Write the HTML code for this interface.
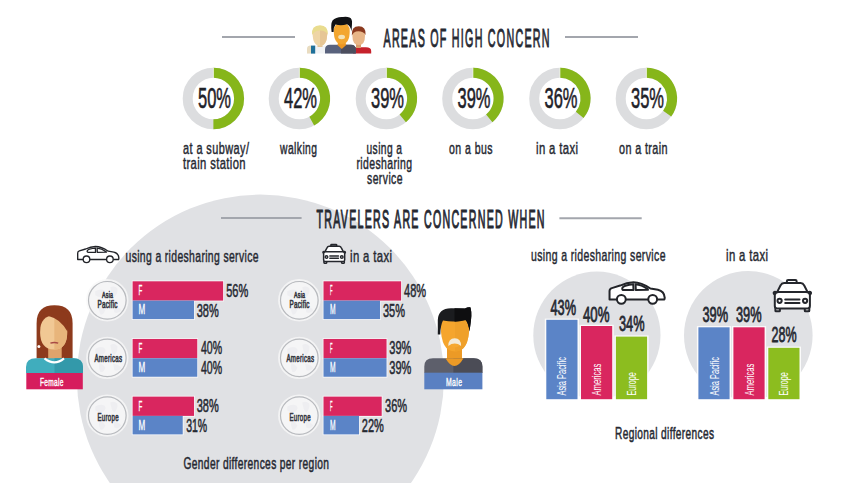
<!DOCTYPE html><html><head><meta charset="utf-8"><style>html,body{margin:0;padding:0;background:#fff;}svg{display:block;font-family:"Liberation Sans",sans-serif;}</style></head><body>
<svg width="858" height="483" viewBox="0 0 858 483">
<rect width="858" height="483" fill="#fff"/>
<circle cx="260.4" cy="378.1" r="183.5" fill="#e0e1e4"/>
<circle cx="596.9" cy="335.2" r="63.6" fill="#e0e1e4"/>
<circle cx="748.3" cy="335.3" r="64.3" fill="#e0e1e4"/>
<line x1="222.0" y1="37.0" x2="295.0" y2="37.0" stroke="#a3a6ad" stroke-width="2"/>
<line x1="565.0" y1="37.0" x2="638.0" y2="37.0" stroke="#a3a6ad" stroke-width="2"/>
<line x1="221.0" y1="218.0" x2="301.6" y2="218.0" stroke="#a3a6ad" stroke-width="2"/>
<line x1="559.4" y1="218.3" x2="641.7" y2="218.3" stroke="#a3a6ad" stroke-width="2"/>
<circle cx="213.40" cy="98.50" r="25.70" fill="none" stroke="#dcdddf" stroke-width="10"/>
<path d="M213.40,72.80 A25.70,25.70 0 0 1 213.40,124.20" fill="none" stroke="#86b61a" stroke-width="10"/>
<line x1="213.40" y1="67.50" x2="213.40" y2="78.50" stroke="#fff" stroke-width="1" opacity="0.7"/>
<circle cx="299.40" cy="98.50" r="25.70" fill="none" stroke="#dcdddf" stroke-width="10"/>
<path d="M299.40,72.80 A25.70,25.70 0 0 1 311.78,121.02" fill="none" stroke="#86b61a" stroke-width="10"/>
<line x1="299.40" y1="67.50" x2="299.40" y2="78.50" stroke="#fff" stroke-width="1" opacity="0.7"/>
<circle cx="386.40" cy="98.50" r="25.70" fill="none" stroke="#dcdddf" stroke-width="10"/>
<path d="M386.40,72.80 A25.70,25.70 0 0 1 402.78,118.30" fill="none" stroke="#86b61a" stroke-width="10"/>
<line x1="386.40" y1="67.50" x2="386.40" y2="78.50" stroke="#fff" stroke-width="1" opacity="0.7"/>
<circle cx="472.90" cy="98.50" r="25.70" fill="none" stroke="#dcdddf" stroke-width="10"/>
<path d="M472.90,72.80 A25.70,25.70 0 0 1 489.28,118.30" fill="none" stroke="#86b61a" stroke-width="10"/>
<line x1="472.90" y1="67.50" x2="472.90" y2="78.50" stroke="#fff" stroke-width="1" opacity="0.7"/>
<circle cx="559.90" cy="98.50" r="25.70" fill="none" stroke="#dcdddf" stroke-width="10"/>
<path d="M559.90,72.80 A25.70,25.70 0 0 1 579.70,114.88" fill="none" stroke="#86b61a" stroke-width="10"/>
<line x1="559.90" y1="67.50" x2="559.90" y2="78.50" stroke="#fff" stroke-width="1" opacity="0.7"/>
<circle cx="646.40" cy="98.50" r="25.70" fill="none" stroke="#dcdddf" stroke-width="10"/>
<path d="M646.40,72.80 A25.70,25.70 0 0 1 667.19,113.61" fill="none" stroke="#86b61a" stroke-width="10"/>
<line x1="646.40" y1="67.50" x2="646.40" y2="78.50" stroke="#fff" stroke-width="1" opacity="0.7"/>
<g>
<path d="M307,53.6 L307,49 Q307,45.6 311,45.6 L326,45.6 L326,53.6 Z" fill="#f1f3f5"/>
<path d="M307,53.6 L307,49 Q307,45.6 311,45.6 L311,53.6 Z" fill="#e9dcc0"/>
<rect x="311" y="45.6" width="4.2" height="8" fill="#1f7099"/>
<rect x="317.5" y="41" width="5" height="6" fill="#e3c496"/>
<path d="M312.6,33 Q312.6,45.8 320,45.8 Q327.2,45.8 327.2,33 Q327.2,26 320,26 Q312.6,26 312.6,33 Z" fill="#eed5a6"/>
<path d="M320,26 Q327.2,26 327.2,33 Q327.2,45.8 320,45.8 Z" fill="#e6c695"/>
<path d="M312,35 Q311,25.5 320,25.2 Q328.5,25.5 327.8,35 Q326,30 319,30.5 Q314.5,31 312,35 Z" fill="#e9dc8f"/>
<path d="M353,53.6 L353,47.3 L366,47.3 Q371.2,47.3 371.2,51 L371.2,53.6 Z" fill="#c6212b"/>
<rect x="356" y="42" width="5" height="6" fill="#d89e6c"/>
<path d="M352.4,36 Q352.4,45 358.8,45 Q365,45 365,36 Q365,28.5 358.8,28.5 Q352.4,28.5 352.4,36 Z" fill="#e8b688"/>
<path d="M351.8,35.5 Q351.2,26.4 358.8,26.3 Q366.2,26.4 365.6,35 Q363,30.5 356,31.5 Q353.5,32.2 351.8,35.5 Z" fill="#8b3a1f"/>
<path d="M325,53.6 L325,49.5 Q325,44.8 330,44.8 L351,44.8 Q355.8,44.8 355.8,49.5 L355.8,53.6 Z" fill="#59627d"/>
<path d="M341,44.8 L351,44.8 Q355.8,44.8 355.8,49.5 L355.8,53.6 L341,53.6 Z" fill="#4c4e5e"/>
<path d="M337,44.8 L346.5,44.8 L341.8,49 Z" fill="#ec9621"/>
<rect x="337.8" y="39" width="8" height="6" fill="#ee9a24"/>
<path d="M333.8,31 Q333.8,44 341.8,44 Q349.7,44 349.7,31 Q349.7,23 341.8,23 Q333.8,23 333.8,31 Z" fill="#f3a62f"/>
<ellipse cx="341.6" cy="37" rx="3.4" ry="2.2" fill="#f4e2b4"/>
<path d="M331.6,32 Q330.5,24 332.5,20.5 Q336,16.6 343,17 Q347,16.5 349.5,17.5 Q352.5,18.5 352,24 L351.5,31.5 Q350.5,25.5 347,24.3 Q341,26 335.5,24.5 Q333.5,27 333.6,32 Z" fill="#111215"/>
</g>
<g transform="translate(77,246.8)"><g fill="#fff" stroke="#222429" stroke-width="1.35" stroke-linejoin="round">
<path d="M0.7,12.7 L0.7,6.2 Q0.7,4.6 2.4,4.1 L8.6,2.2 Q13.5,-0.2 18.5,-0.3 Q24.5,-0.2 31.2,4.4 L36.8,5.3 Q41.6,6.3 41.9,11.4 L41.6,12.7 Z"/>
<path d="M10.2,4.1 Q10.6,3 12.5,2.4 Q15.5,1.5 18.4,1.3 L18.6,5.5 L11.3,5.6 Q10,5.5 10.2,4.1 Z"/>
<path d="M20.1,1.3 Q24.4,1.5 29.2,4.9 L29.4,5.4 L20.3,5.5 Z"/>
<circle cx="9.5" cy="12.5" r="3.3"/><circle cx="32.9" cy="12.5" r="3.3"/>
</g></g>
<g transform="translate(322.3,243.9) scale(0.6)"><g fill="#fff" stroke="#25272d" stroke-width="2.5" stroke-linejoin="round" stroke-linecap="round">
<path d="M14.3,4 L14.3,2 Q14.3,0.8 15.5,0.8 L22.8,0.8 Q24,0.8 24,2 L24,4 Z"/>
<path d="M4.5,13 L8,6.2 Q9,4 11.5,4 L28,4 Q30.5,4 31.5,6.2 L35,13 Z"/>
<path d="M2.8,29 L7.3,29 L7.3,31.6 Q7.3,32.2 6.7,32.2 L3.4,32.2 Q2.8,32.2 2.8,31.6 Z"/>
<path d="M32.2,29 L36.7,29 L36.7,31.6 Q36.7,32.2 36.1,32.2 L32.8,32.2 Q32.2,32.2 32.2,31.6 Z"/>
<path d="M4,13 Q1,12.2 1,14 Q1,15.2 2.2,15.4 M35.5,13 Q38.5,12.2 38.5,14 Q38.5,15.2 37.3,15.4" fill="none"/>
<path d="M2.2,15.5 Q3,13 6,13 L33.5,13 Q36.5,13 37.3,15.5 L37.3,27 Q37.3,29.3 35,29.3 L4.5,29.3 Q2.2,29.3 2.2,27 Z"/>
<circle cx="7" cy="21.7" r="2.1"/><circle cx="32.5" cy="21.7" r="2.1"/>
<path d="M12.6,20.3 L26.9,20.3 M12.6,24 L26.9,24" fill="none"/>
</g></g>
<circle cx="107.3" cy="300.3" r="20.2" fill="none" stroke="#f7f7f8" stroke-width="2" opacity="0.8"/><circle cx="107.3" cy="300.3" r="18.8" fill="#f5f5f6" stroke="#b8babe" stroke-width="1.2"/><g fill="#eeeef1"><path d="M95.3,291.3 q5,-3 9,-1 q3,3 -1,6 q-4,2 -8,-1 z"/><path d="M110.3,287.3 q4,-2 7,1 q1,5 -3,9 q-3,-2 -4,-10 z"/><path d="M99.3,305.3 q4,1 6,5 q-2,5 -5,4 q-2,-4 -1,-9 z"/><path d="M113.3,306.3 q5,0 8,4 q-3,4 -7,2 z"/></g>
<circle cx="107.3" cy="357.9" r="20.2" fill="none" stroke="#f7f7f8" stroke-width="2" opacity="0.8"/><circle cx="107.3" cy="357.9" r="18.8" fill="#f5f5f6" stroke="#b8babe" stroke-width="1.2"/><g fill="#eeeef1"><path d="M95.3,348.9 q5,-3 9,-1 q3,3 -1,6 q-4,2 -8,-1 z"/><path d="M110.3,344.9 q4,-2 7,1 q1,5 -3,9 q-3,-2 -4,-10 z"/><path d="M99.3,362.9 q4,1 6,5 q-2,5 -5,4 q-2,-4 -1,-9 z"/><path d="M113.3,363.9 q5,0 8,4 q-3,4 -7,2 z"/></g>
<circle cx="107.3" cy="415.6" r="20.2" fill="none" stroke="#f7f7f8" stroke-width="2" opacity="0.8"/><circle cx="107.3" cy="415.6" r="18.8" fill="#f5f5f6" stroke="#b8babe" stroke-width="1.2"/><g fill="#eeeef1"><path d="M95.3,406.6 q5,-3 9,-1 q3,3 -1,6 q-4,2 -8,-1 z"/><path d="M110.3,402.6 q4,-2 7,1 q1,5 -3,9 q-3,-2 -4,-10 z"/><path d="M99.3,420.6 q4,1 6,5 q-2,5 -5,4 q-2,-4 -1,-9 z"/><path d="M113.3,421.6 q5,0 8,4 q-3,4 -7,2 z"/></g>
<circle cx="299.3" cy="300.3" r="20.2" fill="none" stroke="#f7f7f8" stroke-width="2" opacity="0.8"/><circle cx="299.3" cy="300.3" r="18.8" fill="#f5f5f6" stroke="#b8babe" stroke-width="1.2"/><g fill="#eeeef1"><path d="M287.3,291.3 q5,-3 9,-1 q3,3 -1,6 q-4,2 -8,-1 z"/><path d="M302.3,287.3 q4,-2 7,1 q1,5 -3,9 q-3,-2 -4,-10 z"/><path d="M291.3,305.3 q4,1 6,5 q-2,5 -5,4 q-2,-4 -1,-9 z"/><path d="M305.3,306.3 q5,0 8,4 q-3,4 -7,2 z"/></g>
<circle cx="299.3" cy="357.9" r="20.2" fill="none" stroke="#f7f7f8" stroke-width="2" opacity="0.8"/><circle cx="299.3" cy="357.9" r="18.8" fill="#f5f5f6" stroke="#b8babe" stroke-width="1.2"/><g fill="#eeeef1"><path d="M287.3,348.9 q5,-3 9,-1 q3,3 -1,6 q-4,2 -8,-1 z"/><path d="M302.3,344.9 q4,-2 7,1 q1,5 -3,9 q-3,-2 -4,-10 z"/><path d="M291.3,362.9 q4,1 6,5 q-2,5 -5,4 q-2,-4 -1,-9 z"/><path d="M305.3,363.9 q5,0 8,4 q-3,4 -7,2 z"/></g>
<circle cx="299.3" cy="415.6" r="20.2" fill="none" stroke="#f7f7f8" stroke-width="2" opacity="0.8"/><circle cx="299.3" cy="415.6" r="18.8" fill="#f5f5f6" stroke="#b8babe" stroke-width="1.2"/><g fill="#eeeef1"><path d="M287.3,406.6 q5,-3 9,-1 q3,3 -1,6 q-4,2 -8,-1 z"/><path d="M302.3,402.6 q4,-2 7,1 q1,5 -3,9 q-3,-2 -4,-10 z"/><path d="M291.3,420.6 q4,1 6,5 q-2,5 -5,4 q-2,-4 -1,-9 z"/><path d="M305.3,421.6 q5,0 8,4 q-3,4 -7,2 z"/></g>
<rect x="131.80" y="280.50" width="92.15" height="20.90" fill="#fff" opacity="0.8"/>
<rect x="131.80" y="299.80" width="63.05" height="20.10" fill="#fff" opacity="0.8"/>
<rect x="131.80" y="338.15" width="66.28" height="20.90" fill="#fff" opacity="0.8"/>
<rect x="131.80" y="357.45" width="66.28" height="20.10" fill="#fff" opacity="0.8"/>
<rect x="131.80" y="395.80" width="63.05" height="20.90" fill="#fff" opacity="0.8"/>
<rect x="131.80" y="415.10" width="51.73" height="20.10" fill="#fff" opacity="0.8"/>
<rect x="322.70" y="280.50" width="79.22" height="20.90" fill="#fff" opacity="0.8"/>
<rect x="322.70" y="299.80" width="58.20" height="20.10" fill="#fff" opacity="0.8"/>
<rect x="322.70" y="338.15" width="64.66" height="20.90" fill="#fff" opacity="0.8"/>
<rect x="322.70" y="357.45" width="64.66" height="20.10" fill="#fff" opacity="0.8"/>
<rect x="322.70" y="395.80" width="59.81" height="20.90" fill="#fff" opacity="0.8"/>
<rect x="322.70" y="415.10" width="37.17" height="20.10" fill="#fff" opacity="0.8"/>
<rect x="132.60" y="281.30" width="90.55" height="19.30" fill="#d9265f"/>
<rect x="132.60" y="300.60" width="61.45" height="18.50" fill="#5b84c7"/>
<rect x="132.60" y="338.95" width="64.68" height="19.30" fill="#d9265f"/>
<rect x="132.60" y="358.25" width="64.68" height="18.50" fill="#5b84c7"/>
<rect x="132.60" y="396.60" width="61.45" height="19.30" fill="#d9265f"/>
<rect x="132.60" y="415.90" width="50.13" height="18.50" fill="#5b84c7"/>
<rect x="323.50" y="281.30" width="77.62" height="19.30" fill="#d9265f"/>
<rect x="323.50" y="300.60" width="56.59" height="18.50" fill="#5b84c7"/>
<rect x="323.50" y="338.95" width="63.06" height="19.30" fill="#d9265f"/>
<rect x="323.50" y="358.25" width="63.06" height="18.50" fill="#5b84c7"/>
<rect x="323.50" y="396.60" width="58.21" height="19.30" fill="#d9265f"/>
<rect x="323.50" y="415.90" width="35.57" height="18.50" fill="#5b84c7"/>
<g>
<path d="M36.6,358.5 L36.6,323 Q36.6,305.2 54.4,305.2 Q72.6,305.2 72.6,323 L72.6,358.5 Z" fill="#8d3a1c"/>
<rect x="48.2" y="344" width="13.5" height="15" fill="#dea36c"/>
<path d="M40.1,332 Q40.1,349.3 54.3,349.6 Q67.2,349.3 67.2,332 Q67.2,315.5 54.3,315.5 Q40.1,315.5 40.1,332 Z" fill="#f1c894"/>
<path d="M54.3,315.5 Q67.2,315.5 67.2,332 Q67.2,349.3 54.3,349.6 Z" fill="#e8b57b"/>
<path d="M39.8,322.5 Q43.5,315 48.5,316 Q60,318.5 67.4,331.5 L67.6,318 Q65,309.5 54,309.5 Q41,310.5 39.8,322.5 Z" fill="#8d3a1c"/>
<path d="M50.4,343.2 Q54.3,341.8 58.2,343.2" stroke="#a84a45" stroke-width="1.4" fill="none"/>
<circle cx="38.9" cy="346.5" r="1.5" fill="#fff"/>
<path d="M26,373 L26,367 Q26,358.2 36,358.2 L73,358.2 Q83,358.2 83,367 L83,373 Z" fill="#40adbd"/>
<path d="M54.5,358.2 L73,358.2 Q83,358.2 83,367 L83,373 L54.5,373 Z" fill="#3399aa"/>
<path d="M44.5,358.4 Q54.5,366.5 64,358.4" stroke="#fff" stroke-width="2.2" fill="none"/>
<rect x="26.3" y="373" width="56.5" height="16.3" fill="#d61d5d"/>
</g>
<g>
<path d="M447,346 L462,346 L462,362 L447,362 Z" fill="#ec9a26"/>
<path d="M424.3,373 L424.3,366.5 Q424.3,358.2 433,358.2 L473.5,358.2 Q482.4,358.2 482.4,366.5 L482.4,373 Z" fill="#5d5f6b"/>
<path d="M453.4,358.2 L473.5,358.2 Q482.4,358.2 482.4,366.5 L482.4,373 L453.4,373 Z" fill="#4b4c56"/>
<path d="M445.5,358.2 L463.5,358.2 Q459,366 454.4,366 Q450,366 445.5,358.2 Z" fill="#ec9a26"/>
<path d="M440.8,326 Q440.8,351.5 455,351.5 Q469.2,351.5 469.2,326 Q469.2,313 455,313 Q440.8,313 440.8,326 Z" fill="#f5a52d"/>
<path d="M455,313 Q469.2,313 469.2,326 Q469.2,351.5 455,351.5 Z" fill="#efa02a"/>
<ellipse cx="454.7" cy="342.8" rx="6" ry="4.6" fill="#f6a82f"/>
<path d="M448.3,346 Q448.3,338.2 454.7,338.2 Q461.1,338.2 461.1,346 Q458,343.6 454.7,343.6 Q451.4,343.6 448.3,346 Z" fill="#f3ead6"/>
<path d="M437.8,334.5 L437.8,320 Q438.2,308.5 451,308.3 L465,308.6 Q467.5,306.8 470.3,307.2 Q472,311 471,320 L469.5,331.5 Q468.5,323 465.5,320 Q455,322.5 443,320.5 Q440.5,325 440.3,334.5 Z" fill="#1b1c1f"/>
<path d="M454.5,308.3 L465,308.6 Q467.5,306.8 470.3,307.2 Q472,311 471,320 L469.5,331.5 Q468.5,323 465.5,320 Q460,321.5 454.5,321.8 Z" fill="#0e0e10"/>
<rect x="424.3" y="372.7" width="58.1" height="16.6" fill="#5a80c2"/>
</g>
<rect x="544.80" y="318.60" width="34.2" height="81.80" fill="#fff" opacity="0.85"/>
<rect x="579.50" y="324.80" width="34.2" height="75.60" fill="#fff" opacity="0.85"/>
<rect x="614.40" y="335.40" width="34.2" height="65.00" fill="#fff" opacity="0.85"/>
<rect x="696.90" y="326.10" width="34.2" height="74.30" fill="#fff" opacity="0.85"/>
<rect x="731.90" y="326.10" width="34.2" height="74.30" fill="#fff" opacity="0.85"/>
<rect x="766.80" y="346.60" width="34.2" height="53.80" fill="#fff" opacity="0.85"/>
<rect x="546.30" y="319.80" width="31.2" height="79.40" fill="#5b84c7"/>
<rect x="581.00" y="326.00" width="31.2" height="73.20" fill="#d9265f"/>
<rect x="615.90" y="336.60" width="31.2" height="62.60" fill="#8cbd1f"/>
<rect x="698.40" y="327.30" width="31.2" height="71.90" fill="#5b84c7"/>
<rect x="733.40" y="327.30" width="31.2" height="71.90" fill="#d9265f"/>
<rect x="768.30" y="347.80" width="31.2" height="51.40" fill="#8cbd1f"/>
<text transform="translate(566.40,395.6) rotate(-90)" x="0" y="0" font-size="13.08" fill="#fff" textLength="38.6" lengthAdjust="spacingAndGlyphs">Asia Pacific</text>
<text transform="translate(601.10,395.6) rotate(-90)" x="0" y="0" font-size="13.08" fill="#fff" textLength="32.0" lengthAdjust="spacingAndGlyphs">Americas</text>
<text transform="translate(636.00,395.6) rotate(-90)" x="0" y="0" font-size="13.08" fill="#fff" textLength="23.5" lengthAdjust="spacingAndGlyphs">Europe</text>
<text transform="translate(718.50,395.6) rotate(-90)" x="0" y="0" font-size="13.08" fill="#fff" textLength="38.6" lengthAdjust="spacingAndGlyphs">Asia Pacific</text>
<text transform="translate(753.50,395.6) rotate(-90)" x="0" y="0" font-size="13.08" fill="#fff" textLength="32.0" lengthAdjust="spacingAndGlyphs">Americas</text>
<text transform="translate(788.40,395.6) rotate(-90)" x="0" y="0" font-size="13.08" fill="#fff" textLength="23.5" lengthAdjust="spacingAndGlyphs">Europe</text>
<g transform="translate(608.6,282.6) scale(1.34)"><g fill="#fff" stroke="#222429" stroke-width="1.5" stroke-linejoin="round">
<path d="M0.7,12.7 L0.7,6.2 Q0.7,4.6 2.4,4.1 L8.6,2.2 Q13.5,-0.2 18.5,-0.3 Q24.5,-0.2 31.2,4.4 L36.8,5.3 Q41.6,6.3 41.9,11.4 L41.6,12.7 Z"/>
<path d="M10.2,4.1 Q10.6,3 12.5,2.4 Q15.5,1.5 18.4,1.3 L18.6,5.5 L11.3,5.6 Q10,5.5 10.2,4.1 Z"/>
<path d="M20.1,1.3 Q24.4,1.5 29.2,4.9 L29.4,5.4 L20.3,5.5 Z"/>
<circle cx="9.5" cy="12.5" r="3.3"/><circle cx="32.9" cy="12.5" r="3.3"/>
</g></g>
<g transform="translate(772.6,279.1)"><g fill="#fff" stroke="#25272d" stroke-width="2" stroke-linejoin="round" stroke-linecap="round">
<path d="M14.3,4 L14.3,2 Q14.3,0.8 15.5,0.8 L22.8,0.8 Q24,0.8 24,2 L24,4 Z"/>
<path d="M4.5,13 L8,6.2 Q9,4 11.5,4 L28,4 Q30.5,4 31.5,6.2 L35,13 Z"/>
<path d="M2.8,29 L7.3,29 L7.3,31.6 Q7.3,32.2 6.7,32.2 L3.4,32.2 Q2.8,32.2 2.8,31.6 Z"/>
<path d="M32.2,29 L36.7,29 L36.7,31.6 Q36.7,32.2 36.1,32.2 L32.8,32.2 Q32.2,32.2 32.2,31.6 Z"/>
<path d="M4,13 Q1,12.2 1,14 Q1,15.2 2.2,15.4 M35.5,13 Q38.5,12.2 38.5,14 Q38.5,15.2 37.3,15.4" fill="none"/>
<path d="M2.2,15.5 Q3,13 6,13 L33.5,13 Q36.5,13 37.3,15.5 L37.3,27 Q37.3,29.3 35,29.3 L4.5,29.3 Q2.2,29.3 2.2,27 Z"/>
<circle cx="7" cy="21.7" r="2.1"/><circle cx="32.5" cy="21.7" r="2.1"/>
<path d="M12.6,20.3 L26.9,20.3 M12.6,24 L26.9,24" fill="none"/>
</g></g>
<g transform="translate(383.50,47.40) scale(0.4068,1)"><text id="t0" x="0" y="0" font-size="26.35" fill="#262932" stroke="#262932" stroke-width="0.99" textLength="408.13" lengthAdjust="spacing">AREAS OF HIGH CONCERN</text></g>
<g transform="translate(316.50,228.20) scale(0.4087,1)"><text id="t1" x="0" y="0" font-size="26.07" fill="#262932" stroke="#262932" stroke-width="1.15" textLength="557.92" lengthAdjust="spacing">TRAVELERS ARE CONCERNED WHEN</text></g>
<text id="t2" x="198.00" y="107.80" font-size="29.79" fill="#1f2229" stroke="#1f2229" stroke-width="0.60" textLength="33.02" lengthAdjust="spacingAndGlyphs">50%</text>
<text id="t3" x="284.00" y="107.80" font-size="29.79" fill="#1f2229" stroke="#1f2229" stroke-width="0.60" textLength="33.02" lengthAdjust="spacingAndGlyphs">42%</text>
<text id="t4" x="371.00" y="107.80" font-size="29.79" fill="#1f2229" stroke="#1f2229" stroke-width="0.60" textLength="33.02" lengthAdjust="spacingAndGlyphs">39%</text>
<text id="t5" x="457.50" y="107.80" font-size="29.79" fill="#1f2229" stroke="#1f2229" stroke-width="0.60" textLength="33.02" lengthAdjust="spacingAndGlyphs">39%</text>
<text id="t6" x="544.50" y="107.80" font-size="29.79" fill="#1f2229" stroke="#1f2229" stroke-width="0.60" textLength="33.02" lengthAdjust="spacingAndGlyphs">36%</text>
<text id="t7" x="631.00" y="107.80" font-size="29.79" fill="#1f2229" stroke="#1f2229" stroke-width="0.60" textLength="33.02" lengthAdjust="spacingAndGlyphs">35%</text>
<g transform="translate(183.00,153.60) scale(0.6432,1)"><text id="t8" x="0" y="0" font-size="17.00" fill="#262932" stroke="#262932" stroke-width="0.46" textLength="102.64" lengthAdjust="spacing">at a subway/</text></g>
<g transform="translate(183.00,168.60) scale(0.6616,1)"><text id="t9" x="0" y="0" font-size="17.00" fill="#262932" stroke="#262932" stroke-width="0.45" textLength="94.51" lengthAdjust="spacing">train station</text></g>
<g transform="translate(280.00,153.60) scale(0.6073,1)"><text id="t10" x="0" y="0" font-size="17.00" fill="#262932" stroke="#262932" stroke-width="0.47" textLength="60.97" lengthAdjust="spacing">walking</text></g>
<g transform="translate(366.50,153.60) scale(0.6026,1)"><text id="t11" x="0" y="0" font-size="17.00" fill="#262932" stroke="#262932" stroke-width="0.47" textLength="58.95" lengthAdjust="spacing">using a</text></g>
<g transform="translate(356.50,168.60) scale(0.6139,1)"><text id="t12" x="0" y="0" font-size="17.00" fill="#262932" stroke="#262932" stroke-width="0.47" textLength="90.44" lengthAdjust="spacing">ridesharing</text></g>
<g transform="translate(367.00,183.90) scale(0.6140,1)"><text id="t13" x="0" y="0" font-size="17.00" fill="#262932" stroke="#262932" stroke-width="0.47" textLength="57.91" lengthAdjust="spacing">service</text></g>
<g transform="translate(449.00,153.60) scale(0.6205,1)"><text id="t14" x="0" y="0" font-size="17.00" fill="#262932" stroke="#262932" stroke-width="0.47" textLength="70.14" lengthAdjust="spacing">on a bus</text></g>
<g transform="translate(536.00,153.60) scale(0.6670,1)"><text id="t15" x="0" y="0" font-size="17.00" fill="#262932" stroke="#262932" stroke-width="0.45" textLength="63.00" lengthAdjust="spacing">in a taxi</text></g>
<g transform="translate(619.00,153.60) scale(0.6365,1)"><text id="t16" x="0" y="0" font-size="17.00" fill="#262932" stroke="#262932" stroke-width="0.46" textLength="76.23" lengthAdjust="spacing">on a train</text></g>
<g transform="translate(125.50,261.80) scale(0.5979,1)"><text id="t17" x="0" y="0" font-size="17.40" fill="#262932" stroke="#262932" stroke-width="0.48" textLength="222.45" lengthAdjust="spacing">using a ridesharing service</text></g>
<g transform="translate(350.00,261.80) scale(0.6523,1)"><text id="t18" x="0" y="0" font-size="17.40" fill="#262932" stroke="#262932" stroke-width="0.46" textLength="64.45" lengthAdjust="spacing">in a taxi</text></g>
<g transform="translate(183.50,469.20) scale(0.5865,1)"><text id="t19" x="0" y="0" font-size="17.40" fill="#262932" stroke="#262932" stroke-width="0.55" textLength="248.10" lengthAdjust="spacing">Gender differences per region</text></g>
<g transform="translate(531.00,261.40) scale(0.6047,1)"><text id="t20" x="0" y="0" font-size="17.40" fill="#262932" stroke="#262932" stroke-width="0.47" textLength="222.45" lengthAdjust="spacing">using a ridesharing service</text></g>
<g transform="translate(726.00,261.40) scale(0.6522,1)"><text id="t21" x="0" y="0" font-size="17.40" fill="#262932" stroke="#262932" stroke-width="0.46" textLength="64.45" lengthAdjust="spacing">in a taxi</text></g>
<g transform="translate(615.00,439.20) scale(0.5819,1)"><text id="t22" x="0" y="0" font-size="17.40" fill="#262932" stroke="#262932" stroke-width="0.55" textLength="170.14" lengthAdjust="spacing">Regional differences</text></g>
<text id="t23" x="226.26" y="296.80" font-size="19.05" fill="#262932" stroke="#262932" stroke-width="0.55" textLength="22.02" lengthAdjust="spacingAndGlyphs">56%</text>
<text id="t24" x="196.73" y="316.80" font-size="19.05" fill="#262932" stroke="#262932" stroke-width="0.55" textLength="22.02" lengthAdjust="spacingAndGlyphs">38%</text>
<text id="t25" x="138.50" y="295.00" font-size="14.54" fill="#ffffff" stroke="#ffffff" stroke-width="0.30" textLength="3.80" lengthAdjust="spacingAndGlyphs">F</text>
<text id="t26" x="138.50" y="314.10" font-size="13.95" fill="#ffffff" stroke="#ffffff" stroke-width="0.30" textLength="6.71" lengthAdjust="spacingAndGlyphs">M</text>
<text id="t27" x="200.90" y="354.05" font-size="19.05" fill="#262932" stroke="#262932" stroke-width="0.55" textLength="21.11" lengthAdjust="spacingAndGlyphs">40%</text>
<text id="t28" x="200.90" y="374.05" font-size="19.05" fill="#262932" stroke="#262932" stroke-width="0.55" textLength="21.11" lengthAdjust="spacingAndGlyphs">40%</text>
<text id="t29" x="138.50" y="353.25" font-size="14.54" fill="#ffffff" stroke="#ffffff" stroke-width="0.30" textLength="3.80" lengthAdjust="spacingAndGlyphs">F</text>
<text id="t30" x="138.50" y="372.35" font-size="13.95" fill="#ffffff" stroke="#ffffff" stroke-width="0.30" textLength="6.71" lengthAdjust="spacingAndGlyphs">M</text>
<text id="t31" x="196.73" y="412.30" font-size="19.05" fill="#262932" stroke="#262932" stroke-width="0.55" textLength="22.02" lengthAdjust="spacingAndGlyphs">38%</text>
<text id="t32" x="186.14" y="432.30" font-size="19.05" fill="#262932" stroke="#262932" stroke-width="0.55" textLength="21.03" lengthAdjust="spacingAndGlyphs">31%</text>
<text id="t33" x="138.50" y="410.50" font-size="14.54" fill="#ffffff" stroke="#ffffff" stroke-width="0.30" textLength="3.80" lengthAdjust="spacingAndGlyphs">F</text>
<text id="t34" x="138.50" y="429.60" font-size="13.95" fill="#ffffff" stroke="#ffffff" stroke-width="0.30" textLength="6.71" lengthAdjust="spacingAndGlyphs">M</text>
<g transform="translate(102.00,297.50) scale(0.5480,1)"><text id="t35" x="0" y="0" font-size="9.66" fill="#34363e" stroke="#34363e" stroke-width="0.64" textLength="20.21" lengthAdjust="spacing">Asia</text></g>
<g transform="translate(97.50,308.40) scale(0.6194,1)"><text id="t36" x="0" y="0" font-size="10.21" fill="#34363e" stroke="#34363e" stroke-width="0.60" textLength="32.33" lengthAdjust="spacing">Pacific</text></g>
<g transform="translate(94.50,361.90) scale(0.5637,1)"><text id="t37" x="0" y="0" font-size="10.90" fill="#34363e" stroke="#34363e" stroke-width="0.63" textLength="48.81" lengthAdjust="spacing">Americas</text></g>
<g transform="translate(97.50,420.80) scale(0.5365,1)"><text id="t38" x="0" y="0" font-size="11.34" fill="#34363e" stroke="#34363e" stroke-width="0.65" textLength="39.28" lengthAdjust="spacing">Europe</text></g>
<text id="t39" x="404.08" y="296.80" font-size="19.05" fill="#262932" stroke="#262932" stroke-width="0.55" textLength="22.06" lengthAdjust="spacingAndGlyphs">48%</text>
<text id="t40" x="382.98" y="316.80" font-size="19.05" fill="#262932" stroke="#262932" stroke-width="0.55" textLength="22.02" lengthAdjust="spacingAndGlyphs">35%</text>
<text id="t41" x="330.00" y="295.00" font-size="14.54" fill="#ffffff" stroke="#ffffff" stroke-width="0.30" textLength="2.53" lengthAdjust="spacingAndGlyphs">F</text>
<text id="t42" x="330.00" y="314.10" font-size="13.95" fill="#ffffff" stroke="#ffffff" stroke-width="0.30" textLength="5.59" lengthAdjust="spacingAndGlyphs">M</text>
<text id="t43" x="389.31" y="354.05" font-size="19.05" fill="#262932" stroke="#262932" stroke-width="0.55" textLength="22.02" lengthAdjust="spacingAndGlyphs">39%</text>
<text id="t44" x="389.31" y="374.05" font-size="19.05" fill="#262932" stroke="#262932" stroke-width="0.55" textLength="22.02" lengthAdjust="spacingAndGlyphs">39%</text>
<text id="t45" x="330.00" y="353.25" font-size="14.54" fill="#ffffff" stroke="#ffffff" stroke-width="0.30" textLength="2.53" lengthAdjust="spacingAndGlyphs">F</text>
<text id="t46" x="330.00" y="372.35" font-size="13.95" fill="#ffffff" stroke="#ffffff" stroke-width="0.30" textLength="5.59" lengthAdjust="spacingAndGlyphs">M</text>
<text id="t47" x="385.06" y="412.30" font-size="19.05" fill="#262932" stroke="#262932" stroke-width="0.55" textLength="22.02" lengthAdjust="spacingAndGlyphs">36%</text>
<text id="t48" x="361.87" y="432.30" font-size="19.05" fill="#262932" stroke="#262932" stroke-width="0.55" textLength="22.02" lengthAdjust="spacingAndGlyphs">22%</text>
<text id="t49" x="330.00" y="410.50" font-size="14.54" fill="#ffffff" stroke="#ffffff" stroke-width="0.30" textLength="2.53" lengthAdjust="spacingAndGlyphs">F</text>
<text id="t50" x="330.00" y="429.60" font-size="13.95" fill="#ffffff" stroke="#ffffff" stroke-width="0.30" textLength="5.59" lengthAdjust="spacingAndGlyphs">M</text>
<g transform="translate(294.00,297.50) scale(0.5480,1)"><text id="t51" x="0" y="0" font-size="9.66" fill="#34363e" stroke="#34363e" stroke-width="0.64" textLength="20.21" lengthAdjust="spacing">Asia</text></g>
<g transform="translate(289.50,308.40) scale(0.6194,1)"><text id="t52" x="0" y="0" font-size="10.21" fill="#34363e" stroke="#34363e" stroke-width="0.60" textLength="32.33" lengthAdjust="spacing">Pacific</text></g>
<g transform="translate(286.50,361.90) scale(0.5637,1)"><text id="t53" x="0" y="0" font-size="10.90" fill="#34363e" stroke="#34363e" stroke-width="0.63" textLength="48.81" lengthAdjust="spacing">Americas</text></g>
<g transform="translate(289.50,420.80) scale(0.5365,1)"><text id="t54" x="0" y="0" font-size="11.34" fill="#34363e" stroke="#34363e" stroke-width="0.65" textLength="39.28" lengthAdjust="spacing">Europe</text></g>
<g transform="translate(40.00,385.50) scale(0.5950,1)"><text id="t55" x="0" y="0" font-size="11.04" fill="#ffffff" stroke="#ffffff" stroke-width="0.41" textLength="39.57" lengthAdjust="spacing">Female</text></g>
<g transform="translate(446.00,385.50) scale(0.6236,1)"><text id="t56" x="0" y="0" font-size="11.04" fill="#ffffff" stroke="#ffffff" stroke-width="0.40" textLength="25.72" lengthAdjust="spacing">Male</text></g>
<text id="t57" x="550.50" y="314.80" font-size="21.20" fill="#262932" stroke="#262932" stroke-width="0.80" textLength="25.50" lengthAdjust="spacingAndGlyphs">43%</text>
<text id="t58" x="583.00" y="321.80" font-size="21.20" fill="#262932" stroke="#262932" stroke-width="0.80" textLength="26.54" lengthAdjust="spacingAndGlyphs">40%</text>
<text id="t59" x="619.00" y="331.30" font-size="21.20" fill="#262932" stroke="#262932" stroke-width="0.80" textLength="25.52" lengthAdjust="spacingAndGlyphs">34%</text>
<text id="t60" x="702.50" y="321.80" font-size="21.20" fill="#262932" stroke="#262932" stroke-width="0.80" textLength="25.52" lengthAdjust="spacingAndGlyphs">39%</text>
<text id="t61" x="736.00" y="321.80" font-size="21.20" fill="#262932" stroke="#262932" stroke-width="0.80" textLength="25.54" lengthAdjust="spacingAndGlyphs">39%</text>
<text id="t62" x="771.50" y="341.80" font-size="21.20" fill="#262932" stroke="#262932" stroke-width="0.80" textLength="25.04" lengthAdjust="spacingAndGlyphs">28%</text>
</svg></body></html>
